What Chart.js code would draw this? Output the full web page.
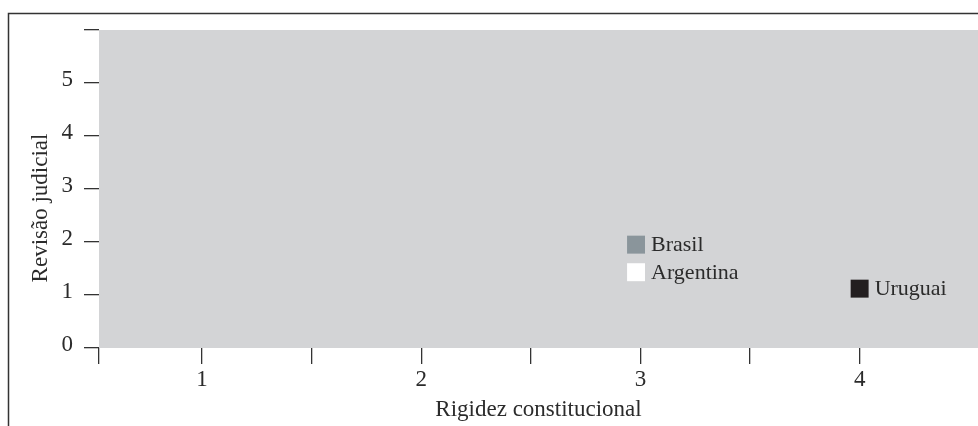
<!DOCTYPE html>
<html>
<head>
<meta charset="utf-8">
<script src="https://cdn.jsdelivr.net/npm/chart.js@4"></script>
<style>
  html, body { margin: 0; padding: 0; background: #fff; }
  #wrap { width: 978px; height: 426px; }
</style>
</head>
<body>
<div id="wrap"><canvas id="chart" width="978" height="426"></canvas></div>
<script>
// dados
const paises = ['Brasil', 'Argentina', 'Uruguai'];
const rigidez = [2.98, 2.98, 4.0];      // eixo x
const revisao = [1.95, 1.43, 1.12];     // eixo y
const xTicks = [0.53, 1, 1.5, 2, 2.5, 3, 3.5, 4];
const yTicks = [0, 1, 2, 3, 4, 5, 6];

const corPais = ['#8a959b', '#ffffff', '#231f20'];
const serif = '"Liberation Serif", "Times New Roman", serif';
const tinta = '#2b2b2b';

// fundo cinza da área do gráfico + moldura
const fundo = {
  id: 'fundo',
  beforeDraw(chart) {
    const { ctx, chartArea: a } = chart;
    ctx.save();
    ctx.fillStyle = '#d3d4d6';
    ctx.fillRect(a.left, a.top, a.right - a.left, a.bottom - a.top);
    ctx.strokeStyle = '#333';
    ctx.lineWidth = 1.5;
    ctx.beginPath();
    ctx.moveTo(8.5, 426);
    ctx.lineTo(8.5, 13.5);
    ctx.lineTo(978, 13.5);
    ctx.stroke();
    ctx.restore();
  },
  afterDraw(chart) {
    const { ctx, chartArea: a } = chart;
    ctx.save();
    ctx.fillStyle = tinta;
    ctx.font = '23px ' + serif;
    ctx.textAlign = 'center';
    ctx.textBaseline = 'alphabetic';
    ctx.fillText('Rigidez constitucional', (a.left + a.right) / 2, 416);
    ctx.translate(47, 208);
    ctx.rotate(-Math.PI / 2);
    ctx.fillText('Revisão judicial', 0, 0);
    ctx.restore();
  }
};

// nomes ao lado dos quadrados
const rotulos = {
  id: 'rotulos',
  afterDatasetsDraw(chart) {
    const { ctx } = chart;
    const meta = chart.getDatasetMeta(0);
    ctx.save();
    ctx.fillStyle = tinta;
    ctx.font = '22px ' + serif;
    ctx.textAlign = 'left';
    ctx.textBaseline = 'middle';
    meta.data.forEach((pt, i) => {
      ctx.fillText(paises[i], pt.x + 15, pt.y + 1);
    });
    ctx.restore();
  }
};

new Chart(document.getElementById('chart').getContext('2d'), {
  type: 'scatter',
  data: {
    datasets: [{
      data: rigidez.map((x, i) => ({ x: x, y: revisao[i] })),
      backgroundColor: corPais,
      borderWidth: 0,
      pointStyle: 'rect',
      pointRadius: 12.7,
      pointHoverRadius: 12.7
    }]
  },
  options: {
    responsive: false,
    animation: false,
    layout: { autoPadding: false, padding: { top: 30, left: 0, right: 0, bottom: 0 } },
    plugins: {
      legend: { display: false },
      tooltip: { enabled: false }
    },
    scales: {
      x: {
        type: 'linear',
        min: 0.53,
        max: 4.54,
        afterBuildTicks(scale) { scale.ticks = xTicks.map(v => ({ value: v })); },
        afterFit(scale) { scale.height = 78; },
        border: { display: false },
        grid: { drawOnChartArea: false, drawTicks: true, tickLength: 16, color: '#333', lineWidth: 1.3 },
        ticks: {
          autoSkip: false,
          maxRotation: 0,
          padding: 2,
          color: tinta,
          font: { family: serif, size: 23 },
          callback: v => Number.isInteger(v) ? String(v) : ''
        }
      },
      y: {
        min: 0,
        max: 6,
        afterBuildTicks(scale) { scale.ticks = yTicks.map(v => ({ value: v })); },
        afterFit(scale) { scale.width = 99; },
        border: { display: false },
        grid: { drawOnChartArea: false, drawTicks: true, tickLength: 15, color: '#333', lineWidth: 1.3 },
        ticks: {
          padding: 11,
          labelOffset: -3,
          color: tinta,
          font: { family: serif, size: 23 },
          callback: v => v < 6 ? String(v) : ''
        }
      }
    }
  },
  plugins: [fundo, rotulos]
});
</script>
</body>
</html>
